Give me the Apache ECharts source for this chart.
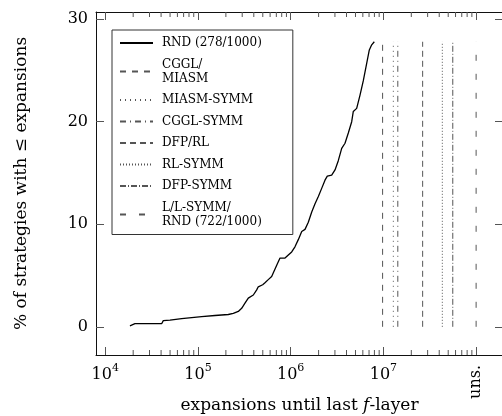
<!DOCTYPE html>
<html>
<head>
<meta charset="utf-8">
<script src="https://cdn.jsdelivr.net/npm/echarts@6/dist/echarts.min.js"></script>
<style>
  html, body { margin: 0; padding: 0; background: #fff; }
  #main { width: 502px; height: 416px; }
</style>
</head>
<body>
<div id="main"></div>
<script>
// RND (278/1000) cumulative curve
var rndX = [18450, 20900, 40560, 42260, 49900, 66700, 85500, 109600, 152500, 212300,
    240400, 272200, 296000, 321300, 348900, 395300, 429800, 446900, 498700, 528000,
    573000, 623500, 648800, 706600, 767000, 868500, 942800, 1025000, 1112000, 1208000,
    1315000, 1427000, 1549000, 1686000, 1830000, 1987000, 2159000, 2344000, 2482000, 2768000,
    3006000, 3261000, 3549000, 3853000, 4183000, 4550000, 4735000, 5149000, 5595000, 6073000,
    6602000, 7047000, 7478000, 7978000];
var rndY = [0.1, 0.3, 0.3, 0.6, 0.65, 0.8, 0.9, 1.0, 1.1, 1.2,
    1.3, 1.5, 1.8, 2.3, 2.8, 3.1, 3.6, 3.9, 4.1, 4.3,
    4.6, 4.9, 5.0, 6.0, 6.7, 6.7, 7.0, 7.3, 7.8, 8.5,
    9.3, 9.5, 10.2, 11.2, 12.0, 12.7, 13.5, 14.3, 14.7, 14.8,
    15.3, 16.2, 17.4, 17.9, 18.9, 20.0, 21.0, 21.3, 22.6, 24.0,
    25.7, 27.0, 27.5, 27.8];

// other configurations: one value each (vertical lines)
var vertNames = ['CGGL/\nMIASM', 'MIASM-SYMM', 'CGGL-SYMM', 'DFP/RL', 'RL-SYMM', 'DFP-SYMM', 'L/L-SYMM/\nRND (722/1000)'];
var vertX = [9.8e6, 1.28e7, 1.43e7, 2.65e7, 4.32e7, 5.6e7, 1e8];
var vertTop = 27.8;
var vertDash = [[6, 6], [1, 4], [6, 4, 1, 4], [6, 4], [1, 2], [6, 2, 1, 2], [6, 13]];

var xMajor = [1e4, 1e5, 1e6, 1e7, 1e8];
var xLabels = [1e4, 1e5, 1e6, 1e7];
var yTicks = [0, 10, 20, 30];

var xMinor = [];
[1e4, 1e5, 1e6, 1e7].forEach(function (d) {
    for (var m = 2; m <= 9; m++) xMinor.push(m * d);
});

var FONT = 'DejaVu Serif';
var xMin = Math.pow(10, 3.9), xMax = Math.pow(10, 8.29);
var yMin = -2.75, yMax = 30.7;
var tickColor = '#555';

function logAxis(pos, extra) {
    var a = {
        type: 'log', logBase: 10, min: xMin, max: xMax, position: pos,
        splitLine: { show: false },
        axisLine: { show: false, onZero: false },
        axisTick: { show: false },
        axisLabel: { show: false }
    };
    for (var k in extra) a[k] = extra[k];
    return a;
}

var xAxes = [
    logAxis('bottom', {
        axisLine: { show: true, onZero: false, lineStyle: { color: '#111', width: 1 } },
        axisTick: { show: true, inside: true, length: 8, customValues: xMajor, lineStyle: { color: tickColor } },
        axisLabel: {
            show: true, margin: 8, customValues: xLabels,
            formatter: function (v) { return '{b|10}{s|' + Math.round(Math.log10(v)) + '}'; },
            rich: {
                b: { fontFamily: FONT, fontSize: 16, color: '#000', lineHeight: 20, verticalAlign: 'bottom' },
                s: { fontFamily: FONT, fontSize: 11, color: '#000', lineHeight: 8, verticalAlign: 'top' }
            }
        },
        name: '{a|expansions until last }{i|f}{a|-layer}',
        nameLocation: 'middle', nameGap: 42,
        nameTextStyle: {
            rich: {
                a: { fontFamily: FONT, fontSize: 17, color: '#000' },
                i: { fontFamily: FONT, fontSize: 17, fontStyle: 'italic', color: '#000' }
            }
        }
    }),
    logAxis('top', {
        axisLine: { show: true, onZero: false, lineStyle: { color: '#111', width: 1 } },
        axisTick: { show: true, inside: true, length: 8, customValues: xMajor, lineStyle: { color: tickColor } }
    }),
    logAxis('bottom', {
        axisLabel: {
            show: true, margin: 10, rotate: 90, customValues: [1e8],
            formatter: function () { return 'uns.'; },
            fontFamily: FONT, fontSize: 16, color: '#000'
        }
    })
];

var yAxes = [
    {
        type: 'value', min: yMin, max: yMax, position: 'left',
        splitLine: { show: false },
        axisLine: { show: true, onZero: false, lineStyle: { color: '#111', width: 1 } },
        axisTick: { show: true, inside: true, length: 8, customValues: yTicks, lineStyle: { color: tickColor } },
        axisLabel: { margin: 8, customValues: yTicks, fontFamily: FONT, fontSize: 16, color: '#000' },
        name: '% of strategies with \u2264 expansions',
        nameLocation: 'middle', nameGap: 66,
        nameTextStyle: { fontFamily: FONT, fontSize: 17, color: '#000' }
    },
    {
        type: 'value', min: yMin, max: yMax, position: 'right',
        splitLine: { show: false },
        axisLine: { show: true, onZero: false, lineStyle: { color: '#111', width: 1 } },
        axisTick: { show: true, inside: true, length: 8, customValues: yTicks, lineStyle: { color: tickColor } },
        axisLabel: { show: false }
    }
];

var series = [{
    name: 'RND (278/1000)',
    type: 'line', symbol: 'none', xAxisIndex: 0, yAxisIndex: 0,
    lineStyle: { color: '#000', width: 1.3 },
    itemStyle: { color: '#000' },
    data: rndX.map(function (x, i) { return [x, rndY[i]]; })
}];
vertNames.forEach(function (n, i) {
    series.push({
        name: n,
        type: 'line', symbol: 'none', xAxisIndex: 0, yAxisIndex: 0,
        lineStyle: { color: '#555', width: 1, type: vertDash[i] },
        itemStyle: { color: '#555' },
        data: [[vertX[i], 0], [vertX[i], vertTop]]
    });
});
var legendNames = series.map(function (s) { return s.name; });

// minor ticks (2..9 x 10^k) on bottom and top edges
series.push({
    name: 'minor ticks',
    type: 'custom', silent: true, xAxisIndex: 0, yAxisIndex: 0,
    clip: false,
    data: xMinor.map(function (v) { return [v, 0]; }),
    renderItem: function (params, api) {
        var pb = api.coord([api.value(0), yMin]);
        var pt = api.coord([api.value(0), yMax]);
        var st = { stroke: tickColor, lineWidth: 1 };
        return {
            type: 'group',
            children: [
                { type: 'line', shape: { x1: pb[0], y1: pb[1], x2: pb[0], y2: pb[1] - 5 }, style: st },
                { type: 'line', shape: { x1: pt[0], y1: pt[1], x2: pt[0], y2: pt[1] + 5 }, style: st }
            ]
        };
    }
});

var myChart = echarts.init(document.getElementById('main'));
myChart.setOption({
    animation: false,
    backgroundColor: '#fff',
    grid: { left: 96, top: 12, width: 407, height: 343, outerBoundsMode: 'none' },
    xAxis: xAxes,
    yAxis: yAxes,
    legend: {
        orient: 'vertical', left: 112, top: 30,
        itemWidth: 33, itemHeight: 14, itemGap: 7.5,
        padding: [6, 31, 6, 7],
        borderColor: '#333', borderWidth: 1, backgroundColor: '#fff',
        selectedMode: false,
        itemStyle: { opacity: 0 },
        textStyle: { fontFamily: FONT, fontSize: 12, lineHeight: 14, color: '#000', padding: [0, 0, 0, 4] },
        data: legendNames
    },
    series: series
});
</script>
</body>
</html>
